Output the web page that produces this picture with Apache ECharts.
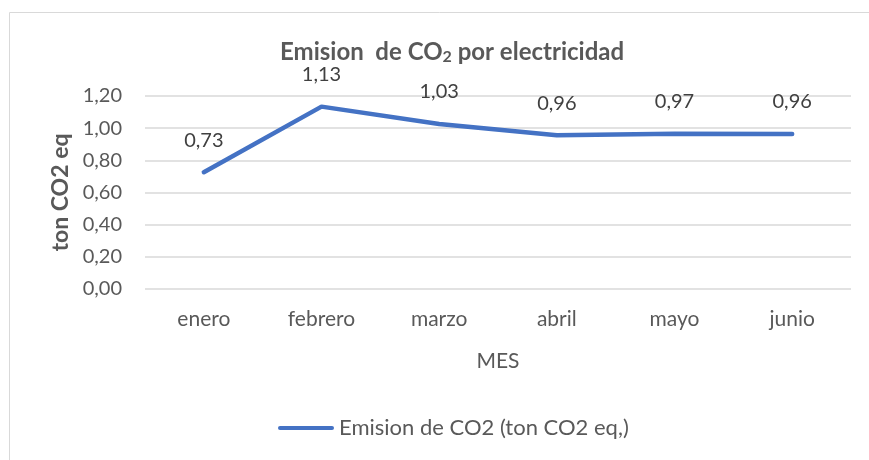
<!DOCTYPE html>
<html><head><meta charset="utf-8">
<script src="https://cdn.jsdelivr.net/npm/echarts@6/dist/echarts.min.js"></script>
<style>html,body{margin:0;padding:0;background:#fff}#c{width:869px;height:460px}</style>
</head><body><div id="c"></div>
<script>
const categories = ['enero','febrero','marzo','abril','mayo','junio'];
const emisiones = [0.726, 1.134, 1.026, 0.956, 0.966, 0.964];
const yTicks = [0, 0.2, 0.4, 0.6, 0.8, 1.0, 1.2];
const seriesName = 'Emision de CO2 (ton CO2 eq,)';
const FONT = 'Lato, "Open Sans", sans-serif';
const fmt = v => Number(v).toFixed(2).replace('.', ',');
const chart = echarts.init(document.getElementById('c'));
chart.setOption({
  animation: false,
  graphic: [{type:'rect', left:7, top:10, shape:{width:900, height:500}, style:{fill:'none', stroke:'#d9d9d9', lineWidth:1}, silent:true}],
  title: {
    text: '{a|Emision  de CO}{s|2}{a| por electricidad}',
    left: 275, top: 34,
    textStyle: {rich: {
      a: {fontFamily: FONT, fontSize: 24, fontWeight: 'bold', color: '#595959'},
      s: {fontFamily: FONT, fontSize: 16, fontWeight: 'bold', color: '#595959', padding:[10,0,0,0]}
    }}
  },
  grid: {left: 145, right: 18, top: 96, bottom: 171},
  legend: {
    bottom: 16, left: 273,
    itemWidth: 56, itemHeight: 10, itemGap: 4,
    textStyle: {fontFamily: FONT, fontSize: 22, color: '#595959'},
    data: [{name: seriesName, icon: 'path://M2,3 L54,3 A2,2 0 0 1 54,7 L2,7 A2,2 0 0 1 2,3 Z'}]
  },
  xAxis: {
    type: 'category', data: categories, boundaryGap: true,
    name: 'MES', nameLocation: 'middle', nameGap: 62,
    nameTextStyle: {fontFamily: FONT, fontSize: 21, color: '#595959'},
    axisLine: {show: false}, axisTick: {show: false},
    axisLabel: {fontFamily: FONT, fontSize: 21, color: '#595959', margin: 20}
  },
  yAxis: {
    type: 'value', min: yTicks[0], max: yTicks[yTicks.length-1], interval: 0.2,
    name: 'ton CO2 eq', nameLocation: 'middle', nameGap: 73, nameRotate: 90,
    nameTextStyle: {fontFamily: FONT, fontSize: 23, fontWeight: 'bold', color: '#595959'},
    axisLine: {show: false}, axisTick: {show: false},
    splitLine: {lineStyle: {color: '#d9d9d9', width: 1.5}},
    axisLabel: {fontFamily: FONT, fontSize: 20, color: '#595959', margin: 23, formatter: fmt}
  },
  series: [{
    name: seriesName, type: 'line', data: emisiones,
    showSymbol: true, symbol: 'circle', symbolSize: 0,
    lineStyle: {color: '#4472C4', width: 4.5, cap: 'round'},
    itemStyle: {color: '#4472C4'},
    label: {show: true, position: 'top', distance: 22, fontFamily: FONT, fontSize: 20, color: '#404040', formatter: p => fmt(p.value)}
  }]
});
</script></body></html>
